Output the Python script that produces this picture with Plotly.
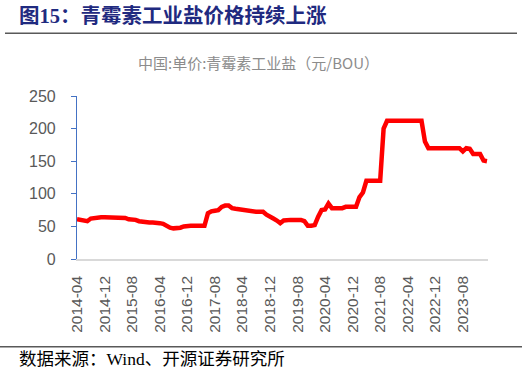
import plotly.graph_objects as go

start_year, start_month = 2014, 4
n_months = 120
months = []
y, m = start_year, start_month
for _ in range(n_months):
    months.append(f"{y}-{m:02d}")
    m += 1
    if m > 12:
        m = 1
        y += 1

prices = [
    61, 60, 59, 58, 62, 63, 64, 64, 64, 64,
    64, 64, 64, 64, 63, 61, 61, 60, 58, 57,
    56, 56, 56, 56, 55, 54, 51, 48, 47, 47,
    48, 50, 51, 51, 51, 51, 51, 51, 70, 73,
    74, 75, 80, 82, 82, 78, 77, 76, 75, 75,
    73, 72.5, 72.5, 72.5, 72.5, 68, 64, 62, 59, 55,
    59, 60, 60, 60, 60, 60, 58, 51, 51, 52,
    65, 75, 76, 85, 78, 78, 78, 78, 80, 80,
    80, 80, 95, 102, 120, 120, 120, 120, 120, 200,
    212, 212, 212, 212, 212, 212, 212, 212, 212, 212,
    212, 180, 170, 170, 170, 170, 170, 170, 170, 170,
    170, 170, 165, 170, 169, 161, 161, 161, 151, 150,
]

tick_labels = [months[i] for i in range(0, n_months, 8)]

title = "图15：青霉素工业盐价格持续上涨"
subtitle = "中国:单价:青霉素工业盐（元/BOU）"
source = "数据来源：Wind、开源证券研究所"

W, H = 527, 377
L, R, T, B = 77, 488, 96, 259

def px(x):
    return (x - L) / (R - L)

def py(yv):
    return (B - yv) / (B - T)

fig = go.Figure()
fig.add_trace(go.Scatter(
    x=months, y=prices, mode="lines",
    line=dict(color="#FF0000", width=4.5),
    showlegend=False, hoverinfo="x+y",
))

fig.update_layout(
    width=W, height=H,
    margin=dict(l=L, r=W - R, t=T, b=H - B, pad=0),
    paper_bgcolor="white", plot_bgcolor="white",
    font=dict(family="Liberation Sans, Noto Sans CJK SC", color="#595959"),
    xaxis=dict(
        type="category", tickmode="array", tickvals=tick_labels, ticktext=tick_labels,
        tickangle=-90, tickfont=dict(size=15.5, color="#595959"),
        showgrid=False, showline=True, linecolor="#D9D9D9", linewidth=1.5,
        ticks="", range=[0, 119.3], zeroline=False, ticklabelstandoff=9,
    ),
    yaxis=dict(
        range=[0, 250], dtick=50, tickfont=dict(size=16, color="#595959"),
        showgrid=False, showline=True, linecolor="#4472C4", linewidth=1.2,
        ticks="outside", tickcolor="#4472C4", ticklen=5, tickwidth=1.2,
        zeroline=False, ticklabelstandoff=12,
    ),
    shapes=[
        dict(type="line", xref="paper", yref="paper",
             x0=px(5), x1=px(517), y0=py(33.3), y1=py(33.3),
             line=dict(color="#595959", width=1.5)),
        dict(type="line", xref="paper", yref="paper",
             x0=px(0), x1=px(522), y0=py(346.7), y1=py(346.7),
             line=dict(color="#595959", width=1.5)),
    ],
    annotations=[
        dict(text="<b>" + title + "</b>", xref="paper", yref="paper",
             x=px(17), y=py(16), xanchor="left", yanchor="middle", showarrow=False,
             font=dict(family="Liberation Serif, Noto Sans CJK SC", size=20.5, color="#1F2A80")),
        dict(text=subtitle, xref="paper", yref="paper",
             x=px(258), y=py(62), xanchor="center", yanchor="middle", showarrow=False,
             font=dict(family="Noto Sans CJK SC", size=15, color="#8C8C8C")),
        dict(text=source, xref="paper", yref="paper",
             x=px(17), y=py(359), xanchor="left", yanchor="middle", showarrow=False,
             font=dict(family="Liberation Serif, Noto Sans CJK SC", size=17.5, color="#000000")),
    ],
)

fig.write_html("out.html", config={"displayModeBar": False},
               post_script="document.body.style.margin='0';")
